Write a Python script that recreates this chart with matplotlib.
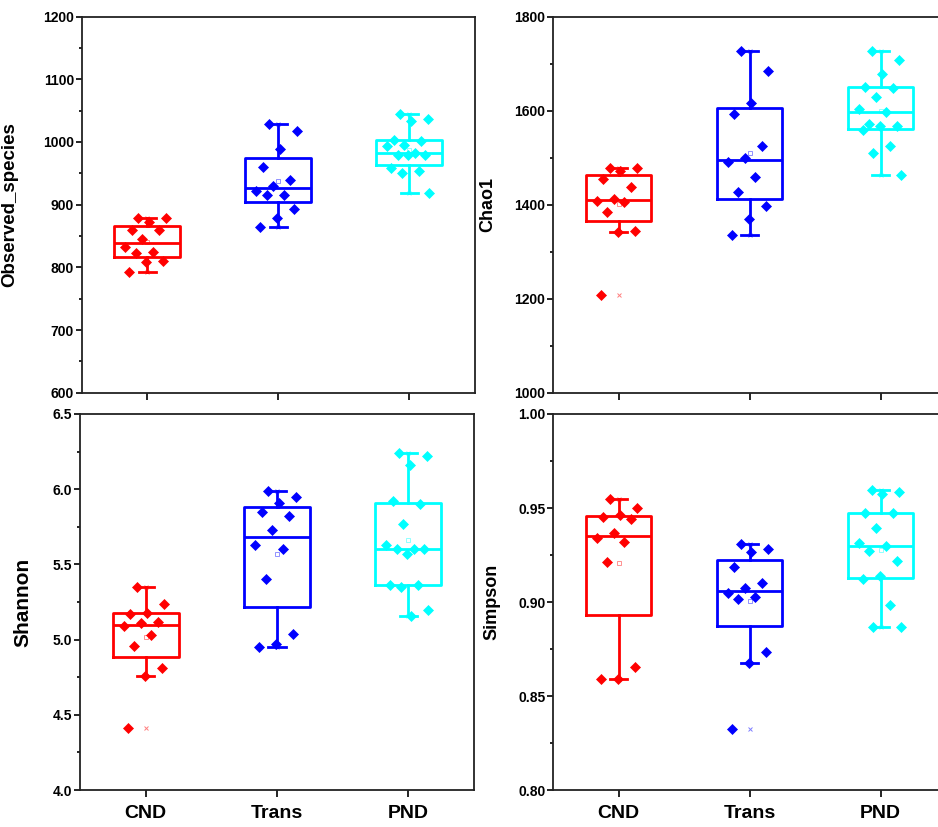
import numpy as np
import matplotlib
matplotlib.use("Agg")
import matplotlib.pyplot as plt
from matplotlib.ticker import MultipleLocator, AutoMinorLocator

plt.rcParams['font.family'] = ['Liberation Sans', 'DejaVu Sans']
plt.rcParams['font.weight'] = 'bold'

groups = ["CND", "Trans", "PND"]
colors = ["#FF0000", "#0000FF", "#00FFFF"]

# values
observed_cnd = [878, 878, 873, 860, 859, 845, 833, 825, 823, 810, 808, 792]
observed_trans = [1029, 1018, 988, 960, 939, 930, 922, 916, 915, 893, 878, 864]
observed_pnd = [1044, 1037, 1033, 1003, 1002, 995, 993, 983, 980, 979, 979, 958, 953, 950, 919]

chao1_cnd = [1478, 1478, 1472, 1454, 1438, 1412, 1408, 1405, 1385, 1344, 1341, 1207]
chao1_trans = [1726, 1685, 1617, 1592, 1524, 1499, 1490, 1459, 1428, 1397, 1369, 1336]
chao1_pnd = [1726, 1708, 1678, 1651, 1649, 1629, 1603, 1596, 1572, 1567, 1567, 1558, 1524, 1509, 1464]

shannon_cnd = [5.35, 5.24, 5.18, 5.17, 5.12, 5.11, 5.09, 5.03, 4.96, 4.81, 4.76, 4.41]
shannon_trans = [5.99, 5.95, 5.91, 5.85, 5.82, 5.73, 5.63, 5.60, 5.40, 5.04, 4.97, 4.95]
shannon_pnd = [6.24, 6.22, 6.16, 5.92, 5.90, 5.77, 5.63, 5.60, 5.60, 5.60, 5.57, 5.36, 5.36, 5.35, 5.20, 5.16]

simpson_cnd = [0.9548, 0.9498, 0.9463, 0.9454, 0.9442, 0.9365, 0.9342, 0.9317, 0.9211, 0.8656, 0.8589, 0.8589]
simpson_trans = [0.9309, 0.9282, 0.9264, 0.9188, 0.9103, 0.9076, 0.9046, 0.9028, 0.9014, 0.8732, 0.8674, 0.8325]
simpson_pnd = [0.9596, 0.9583, 0.9574, 0.9475, 0.9472, 0.9395, 0.9312, 0.9298, 0.9273, 0.9220, 0.9140, 0.9121, 0.8984, 0.8869, 0.8869]

panels = [
    ("Observed_species", [observed_cnd, observed_trans, observed_pnd], (600, 1200), 100, "%d", 13.5),
    ("Chao1", [chao1_cnd, chao1_trans, chao1_pnd], (1000, 1800), 200, "%d", 13),
    ("Shannon", [shannon_cnd, shannon_trans, shannon_pnd], (4.0, 6.5), 0.5, "%.1f", 15),
    ("Simpson", [simpson_cnd, simpson_trans, simpson_pnd], (0.80, 1.00), 0.05, "%.2f", 13),
]

# axes rectangles in figure fraction (right column runs past the edge like the original)
rects = [
    [0.087, 0.525, 0.419, 0.455],
    [0.5896, 0.525, 0.419, 0.455],
    [0.0853, 0.0447, 0.420, 0.4547],
    [0.5896, 0.0447, 0.419, 0.4547],
]
label_x = [-0.16, -0.145, -0.12, -0.135]


def box_stats(values):
    # Origin style quartiles
    v = np.asarray(values, float)
    q1, med, q3 = np.percentile(v, [25, 50, 75], method="hazen")
    iqr = q3 - q1
    inside = v[(v >= q1 - 1.5 * iqr) & (v <= q3 + 1.5 * iqr)]
    return dict(med=med, q1=q1, q3=q3, whislo=inside.min(), whishi=inside.max(),
                mean=v.mean(), fliers=[])


fig = plt.figure(figsize=(9.38, 8.27), dpi=100)

for k, (name, data, ylim, step, fmt, lsize) in enumerate(panels):
    ax = fig.add_axes(rects[k])
    for i, vals in enumerate(data):
        c = colors[i]
        st = box_stats(vals)
        ax.bxp([st], positions=[i], widths=0.5, showfliers=False, capwidths=0.13,
               boxprops=dict(color=c, lw=2),
               whiskerprops=dict(color=c, lw=2),
               capprops=dict(color=c, lw=2),
               medianprops=dict(color=c, lw=2))
        # scattered points, fixed spread pattern
        n = len(vals)
        offs = ((np.arange(n) * 0.618 + 0.3) % 1 - 0.5) * 0.34
        ax.plot(i + offs, vals, ls='none', marker='D', ms=5.6, color=c,
                mec=c, mew=0.5, zorder=4)
        # mean square and min/max crosses
        ax.plot(i, np.mean(vals), marker='s', ms=3, mfc='none', mec=c,
                mew=0.6, alpha=0.5, zorder=5)
        ax.plot([i, i], [min(vals), max(vals)], ls='none', marker='x', ms=3.5,
                color=c, mew=0.7, alpha=0.5, zorder=5)

    ax.set_xlim(-0.5, 2.5)
    ax.set_ylim(*ylim)
    ax.yaxis.set_major_locator(MultipleLocator(step))
    ax.yaxis.set_minor_locator(AutoMinorLocator(2))
    ax.yaxis.set_major_formatter(plt.FormatStrFormatter(fmt))
    ax.set_xticks(range(3))
    if k >= 2:
        ax.set_xticklabels(groups, fontsize=14, fontweight='bold')
    else:
        ax.set_xticklabels([])
    ax.tick_params(axis='y', which='major', length=4, width=1.2, labelsize=10, pad=1.5)
    ax.tick_params(axis='y', which='minor', length=2.5, width=1.2)
    ax.tick_params(axis='x', which='major', length=5, width=1.2, pad=6)
    for s in ax.spines.values():
        s.set_linewidth(1.3)
        s.set_color('#222222')
    ax.set_ylabel(name, fontsize=lsize, fontweight='bold')
    ax.yaxis.set_label_coords(label_x[k], 0.5)

fig.savefig("out.png", dpi=100)
